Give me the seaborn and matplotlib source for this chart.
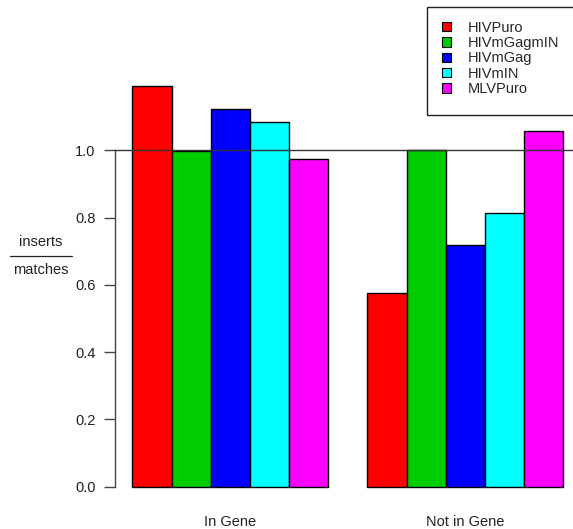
import matplotlib
matplotlib.use("Agg")
import matplotlib.pyplot as plt
from matplotlib.lines import Line2D
from matplotlib.patches import Rectangle
import seaborn as sns
import pandas as pd

# ---- data ----
categories = ["In Gene", "Not in Gene"]
series = ["HIVPuro", "HIVmGagmIN", "HIVmGag", "HIVmIN", "MLVPuro"]
in_gene = [1.192, 0.998, 1.124, 1.083, 0.973]
not_in_gene = [0.576, 1.002, 0.718, 0.814, 1.056]
colors = ["#FF0000", "#00CD00", "#0000FF", "#00FFFF", "#FF00FF"]
y_ticks = [0.0, 0.2, 0.4, 0.6, 0.8, 1.0]

rows = []
for s, a, b in zip(series, in_gene, not_in_gene):
    rows.append({"category": categories[0], "series": s, "value": a})
    rows.append({"category": categories[1], "series": s, "value": b})
df = pd.DataFrame(rows)

sns.set_style("white")
plt.rcParams["font.family"] = ["Liberation Sans", "DejaVu Sans"]
FS = 10.5
plt.rcParams["font.size"] = FS

W, H = 573, 529
fig = plt.figure(figsize=(W / 100, H / 100), dpi=100)
fig.patch.set_facecolor("white")

# axes placement in pixels (plot region extends past right figure edge, as in reference)
left_px, right_px = 115.1, 580.5
top_px, bottom_px = 69.7, 502.7
ax = fig.add_axes([left_px / W, 1 - bottom_px / H,
                   (right_px - left_px) / W, (bottom_px - top_px) / H])

sns.barplot(data=df, x="category", y="value", hue="series", order=categories,
            hue_order=series, palette=colors, width=5 / 6, gap=0,
            edgecolor="black", linewidth=1.0, saturation=1, ax=ax, legend=True)

bar_u = 1 / 6
ax.set_xlim(-2.5 * bar_u - 0.44 * bar_u, 1 + 2.5 * bar_u + 0.44 * bar_u)
ax.set_ylim(-0.04 * max(in_gene), max(in_gene) * 1.04)

ax.axhline(1.0, color="#333333", linewidth=1.0, zorder=5)

for sp in ["top", "right", "bottom"]:
    ax.spines[sp].set_visible(False)
ax.spines["left"].set_bounds(0, 1.0)
ax.spines["left"].set_color("#444444")
ax.spines["left"].set_linewidth(1.0)
ax.set_yticks(y_ticks)
ax.set_yticklabels([f"{t:.1f}" for t in y_ticks])
ax.tick_params(axis="y", left=True, length=8, width=1.0, color="#444444",
               pad=6, labelsize=FS, labelcolor="#222222")
ax.tick_params(axis="x", bottom=False, length=0, pad=9, labelsize=FS,
               labelcolor="#222222")
ax.set_xlabel("")
ax.set_ylabel("")

# y label as fraction inserts / matches
fig.text(41 / W, 1 - 242 / H, "inserts", ha="center", va="center", fontsize=FS,
         color="#222222")
fig.text(41 / W, 1 - 269.5 / H, "matches", ha="center", va="center", fontsize=FS,
         color="#222222")
fig.add_artist(Line2D([10 / W, 72 / W], [1 - 255.7 / H, 1 - 255.7 / H],
                      color="#222222", linewidth=0.9))

# legend
handles, labels = ax.get_legend_handles_labels()
ax.get_legend().remove()
leg = fig.legend(handles, labels, loc="upper left",
                 bbox_to_anchor=(441.5 / W, 1 - 20.5 / H),
                 frameon=False, fontsize=FS,
                 handlelength=0.62, handleheight=0.62, handletextpad=1.2,
                 labelspacing=0.1, borderpad=0, borderaxespad=0)
for h in leg.legend_handles:
    h.set_edgecolor("black")
    h.set_linewidth(0.8)
fig.add_artist(Rectangle((426.7 / W, 1 - 115 / H), (600 - 426.7) / W,
                         (115 - 6.7) / H, transform=fig.transFigure,
                         fill=False, edgecolor="#222222", linewidth=1.0))

fig.savefig("out.png", dpi=100, facecolor="white")
